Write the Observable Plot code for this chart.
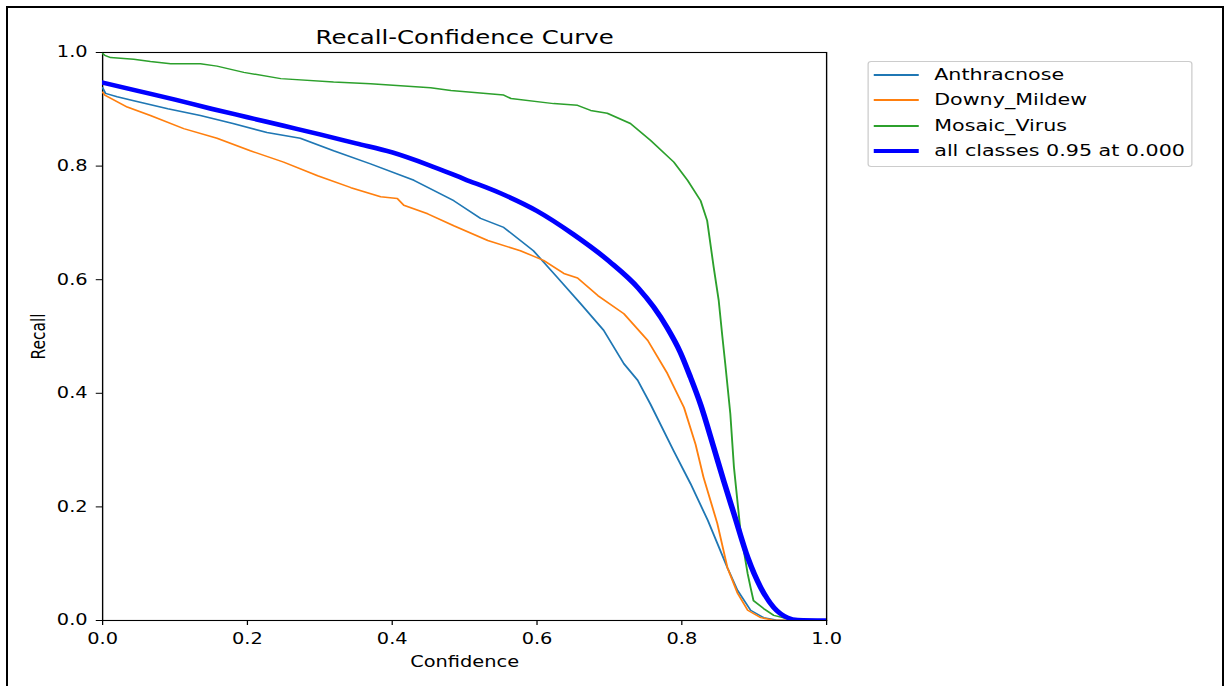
<!DOCTYPE html>
<html>
<head>
<meta charset="utf-8">
<script src="https://cdn.jsdelivr.net/npm/d3@7"></script>
<script src="https://cdn.jsdelivr.net/npm/@observablehq/plot@0.6"></script>
<style>
  html, body { margin: 0; padding: 0; background: white; overflow: hidden; }
  #page { position: relative; width: 1224px; height: 686px; }
  #stage { position: absolute; left: 0; top: 0; height: 686px; transform-origin: 0 0; }
  #border { position: absolute; left: 6px; top: 6px; width: 1218px; height: 680px; box-sizing: border-box;
            border: 2px solid #000; border-bottom: none; pointer-events: none; }
  #legend { position: absolute; box-sizing: border-box; border: 1px solid #cccccc; border-radius: 3px;
            background: rgba(255,255,255,0.8); font-family: "DejaVu Sans", sans-serif; font-size: 16.5px; color: #000; }
  .row { position: absolute; left: 0; height: 20px; line-height: 20px; white-space: nowrap; }
  .swatch { position: absolute; }
  .label { position: absolute; }
</style>
</head>
<body>
<div id="page">
  <div id="stage"></div>
  <div id="border"></div>
</div>
<script>
// ---- data (confidence, recall) ----
const anthracnose = [
  [0, 0.938], [0.004, 0.928], [0.02, 0.922], [0.043, 0.915], [0.09, 0.901], [0.135, 0.889],
  [0.18, 0.875], [0.227, 0.859], [0.273, 0.849], [0.319, 0.827], [0.37, 0.804], [0.43, 0.775],
  [0.485, 0.739], [0.522, 0.708], [0.554, 0.692], [0.595, 0.651], [0.628, 0.604], [0.66, 0.558],
  [0.692, 0.511], [0.72, 0.452], [0.739, 0.423], [0.757, 0.38], [0.789, 0.298], [0.812, 0.241],
  [0.836, 0.176], [0.849, 0.136], [0.863, 0.093], [0.877, 0.053], [0.895, 0.018], [0.913, 0.005],
  [0.93, 0.001], [1, 0]
];
const downyMildew = [
  [0, 0.93], [0.003, 0.925], [0.034, 0.904], [0.066, 0.889], [0.112, 0.866], [0.158, 0.849],
  [0.204, 0.827], [0.25, 0.807], [0.297, 0.783], [0.343, 0.762], [0.384, 0.746], [0.407, 0.743],
  [0.416, 0.731], [0.449, 0.716], [0.485, 0.695], [0.532, 0.669], [0.577, 0.651], [0.609, 0.634],
  [0.637, 0.611], [0.656, 0.603], [0.684, 0.572], [0.72, 0.54], [0.753, 0.493], [0.78, 0.435],
  [0.803, 0.375], [0.819, 0.31], [0.83, 0.252], [0.849, 0.171], [0.863, 0.093], [0.877, 0.048],
  [0.891, 0.018], [0.909, 0.005], [0.925, 0.001], [1, 0]
];
const mosaicVirus = [
  [0, 0.998], [0.003, 0.995], [0.011, 0.991], [0.043, 0.988], [0.066, 0.984], [0.094, 0.98],
  [0.135, 0.98], [0.158, 0.976], [0.195, 0.965], [0.246, 0.954], [0.319, 0.948], [0.37, 0.945],
  [0.453, 0.938], [0.481, 0.933], [0.554, 0.925], [0.564, 0.919], [0.623, 0.91], [0.656, 0.907],
  [0.674, 0.898], [0.697, 0.893], [0.729, 0.875], [0.757, 0.845], [0.789, 0.807], [0.808, 0.775],
  [0.826, 0.739], [0.835, 0.704], [0.844, 0.622], [0.851, 0.563], [0.856, 0.5], [0.86, 0.452],
  [0.867, 0.364], [0.872, 0.27], [0.881, 0.158], [0.891, 0.082], [0.895, 0.058], [0.899, 0.035],
  [0.913, 0.021], [0.927, 0.009], [0.946, 0.003], [0.96, 0], [1, 0]
];
const allClasses = [
  [0, 0.947], [0.05, 0.932], [0.1, 0.917], [0.15, 0.901], [0.2, 0.886], [0.25, 0.871],
  [0.3, 0.856], [0.35, 0.84], [0.4, 0.824], [0.45, 0.802], [0.5, 0.777], [0.55, 0.752],
  [0.6, 0.721], [0.65, 0.68], [0.7, 0.632], [0.74, 0.585], [0.761, 0.552], [0.78, 0.515],
  [0.798, 0.472], [0.812, 0.428], [0.826, 0.38], [0.844, 0.305], [0.858, 0.245], [0.872, 0.188],
  [0.891, 0.111], [0.909, 0.058], [0.927, 0.023], [0.946, 0.005], [0.96, 0.001], [1, 0]
];
const seriesNames = ["Anthracnose", "Downy_Mildew", "Mosaic_Virus", "all classes 0.95 at 0.000"];
const seriesColors = ["#1f77b4", "#ff7f0e", "#2ca02c", "#0000ff"];
const xTicks = [0, 0.2, 0.4, 0.6, 0.8, 1.0];
const yTicks = [0, 0.2, 0.4, 0.6, 0.8, 1.0];
const titleText = "Recall-Confidence Curve";
const xLabel = "Confidence";
const yLabel = "Recall";

// ---- layout (the reference is horizontally stretched; reproduce with scaleX) ----
const S = 1.25;
const W = 1224 / S;
const L = 102 / S, R = 826 / S;
const FONT = "'DejaVu Sans', sans-serif";

const seriesData = [anthracnose, downyMildew, mosaicVirus, allClasses];
const lineMarks = seriesData.map((data, i) => Plot.line(data, {
  x: d => d[0], y: d => d[1],
  stroke: seriesColors[i],
  strokeWidth: i === 3 ? 4.5 : 1.5,
  curve: i === 3 ? "monotone-x" : "linear",
  clip: true
}));

const chart = Plot.plot({
  width: W, height: 686,
  marginLeft: L, marginRight: W - R, marginTop: 52, marginBottom: 66,
  x: {domain: [0, 1]},
  y: {domain: [0, 1]},
  style: {fontFamily: FONT, fontSize: "15.5px", color: "black", background: "transparent", overflow: "visible"},
  marks: [
    Plot.frame({stroke: "black", strokeWidth: 1.1}),
    ...lineMarks,
    Plot.axisX({ticks: xTicks, tickFormat: d => d.toFixed(1), tickSize: 5, tickPadding: 7, label: null, fontSize: 15.5}),
    Plot.axisY({ticks: yTicks, tickFormat: d => d.toFixed(1), tickSize: 5, tickPadding: 7, label: null, fontSize: 15.5}),
    Plot.text([xLabel], {frameAnchor: "bottom", text: d => d, dy: 35, lineAnchor: "top", fontSize: 15.5}),
    Plot.text([yLabel], {frameAnchor: "left", text: d => d, dx: -51, rotate: -90, textAnchor: "middle", lineAnchor: "middle", fontSize: 15.5}),
    Plot.text([titleText], {frameAnchor: "top", text: d => d, dy: -8, lineAnchor: "bottom", fontSize: 19.5})
  ]
});

const stage = document.getElementById("stage");
stage.style.width = W + "px";
stage.style.transform = `scaleX(${S})`;
stage.appendChild(chart);

// legend (HTML, positioned in unscaled coordinates)
const legend = document.createElement("div");
legend.id = "legend";
const lgLeft = 867 / S, lgRight = 1192 / S;
legend.style.left = lgLeft + "px";
legend.style.top = "61px";
legend.style.width = (lgRight - lgLeft) + "px";
legend.style.height = "106px";
const rowCenters = [74, 99, 125, 150];
seriesNames.forEach((name, i) => {
  const row = document.createElement("div");
  row.className = "row";
  row.style.top = (rowCenters[i] - 61 - 10) + "px";
  row.style.width = "100%";
  const sw = document.createElement("div");
  sw.className = "swatch";
  const lw = i === 3 ? 4.5 : 1.5;
  sw.style.left = (873 / S - lgLeft) + "px";
  sw.style.width = ((917 - 873) / S) + "px";
  sw.style.top = (10 - lw / 2) + "px";
  sw.style.height = lw + "px";
  sw.style.background = seriesColors[i];
  const lab = document.createElement("div");
  lab.className = "label";
  lab.style.left = (933 / S - lgLeft) + "px";
  lab.style.top = "0px";
  lab.textContent = name;
  row.appendChild(sw);
  row.appendChild(lab);
  legend.appendChild(row);
});
stage.appendChild(legend);
</script>
</body>
</html>
